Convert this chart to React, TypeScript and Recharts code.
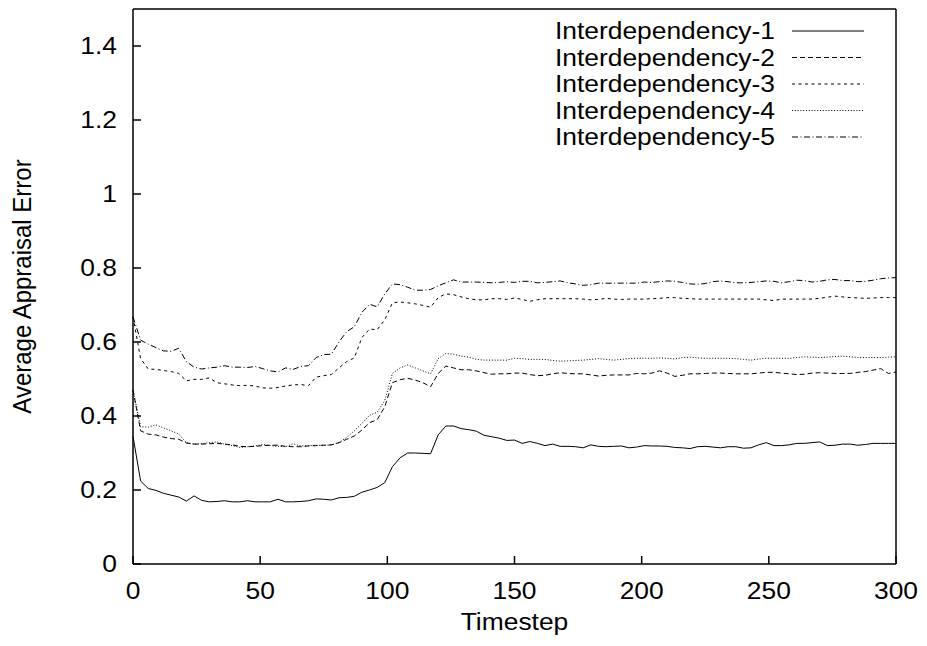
import { LineChart, Line, XAxis, YAxis, Legend } from "recharts"

const FONT = "'Liberation Sans', Arial, Helvetica, sans-serif"
const SX = 1.1 // the reference text is a bit wider than it is tall

const timesteps = [
  0, 3, 6, 9, 12, 15, 18, 21, 24, 27,
  30, 33, 36, 39, 42, 45, 48, 51, 54, 57,
  60, 63, 66, 69, 72, 75, 78, 81, 84, 87,
  90, 93, 96, 99, 102, 105, 108, 111, 114, 117,
  120, 123, 126, 129, 132, 135, 138, 141, 144, 147,
  150, 153, 156, 159, 162, 165, 168, 171, 174, 177,
  180, 183, 186, 189, 192, 195, 198, 201, 204, 207,
  210, 213, 216, 219, 222, 225, 228, 231, 234, 237,
  240, 243, 246, 249, 252, 255, 258, 261, 264, 267,
  270, 273, 276, 279, 282, 285, 288, 291, 294, 297,
  300,
]

const interdep1 = [
  0.345, 0.224, 0.204, 0.199, 0.191, 0.186, 0.181, 0.17, 0.184, 0.172,
  0.168, 0.169, 0.171, 0.168, 0.168, 0.171, 0.168, 0.168, 0.168, 0.175,
  0.168, 0.168, 0.169, 0.171, 0.176, 0.175, 0.173, 0.179, 0.18, 0.183,
  0.194, 0.2, 0.207, 0.22, 0.263, 0.287, 0.3, 0.3, 0.299, 0.298,
  0.349, 0.373, 0.373, 0.366, 0.363, 0.359, 0.348, 0.344, 0.34, 0.334,
  0.335, 0.326, 0.331, 0.326, 0.32, 0.324, 0.318, 0.318, 0.317, 0.314,
  0.322, 0.318, 0.317, 0.318, 0.319, 0.314, 0.316, 0.32, 0.319, 0.319,
  0.318, 0.315, 0.314, 0.312, 0.317, 0.318, 0.316, 0.314, 0.317, 0.317,
  0.313, 0.314, 0.322, 0.328, 0.32, 0.32, 0.322, 0.326, 0.326, 0.328,
  0.33, 0.32, 0.321, 0.324, 0.324, 0.321, 0.323, 0.326, 0.326, 0.326,
  0.326,
]

const interdep2 = [
  0.47, 0.36, 0.351, 0.349, 0.343, 0.339, 0.337, 0.327, 0.324, 0.324,
  0.325, 0.326, 0.324, 0.322, 0.318, 0.317, 0.318, 0.32, 0.321, 0.321,
  0.318, 0.317, 0.317, 0.319, 0.32, 0.321, 0.322, 0.328, 0.337, 0.346,
  0.362, 0.382, 0.39, 0.425, 0.49, 0.498, 0.502, 0.497, 0.49, 0.479,
  0.515, 0.535, 0.53, 0.525, 0.525, 0.522, 0.517, 0.513, 0.514, 0.514,
  0.516, 0.516, 0.512, 0.509, 0.51, 0.514, 0.517, 0.515, 0.514, 0.514,
  0.511, 0.508, 0.51, 0.511, 0.511, 0.511, 0.515, 0.514, 0.516, 0.522,
  0.516, 0.507, 0.51, 0.514, 0.514, 0.515, 0.516, 0.516, 0.515, 0.514,
  0.514, 0.514, 0.516, 0.518, 0.518, 0.516, 0.514, 0.512, 0.513, 0.516,
  0.517, 0.516, 0.515, 0.515, 0.515, 0.518, 0.52, 0.524, 0.528, 0.515,
  0.519,
]

const interdep3 = [
  0.668, 0.555, 0.527, 0.526, 0.523, 0.52, 0.515, 0.495, 0.499, 0.499,
  0.503, 0.49, 0.487, 0.484, 0.482, 0.483, 0.481, 0.476, 0.475, 0.477,
  0.481, 0.484, 0.485, 0.482, 0.505, 0.509, 0.512, 0.53, 0.547, 0.557,
  0.612, 0.635, 0.633, 0.66, 0.706, 0.708, 0.706, 0.703, 0.699, 0.694,
  0.72, 0.73, 0.728, 0.722, 0.717, 0.714, 0.714, 0.717, 0.717, 0.715,
  0.719, 0.715, 0.71, 0.714, 0.717, 0.717, 0.717, 0.717, 0.717, 0.716,
  0.714, 0.715, 0.718, 0.716, 0.715, 0.716, 0.716, 0.716, 0.717, 0.718,
  0.72, 0.72, 0.718, 0.717, 0.716, 0.716, 0.716, 0.716, 0.716, 0.716,
  0.716, 0.716, 0.716, 0.714, 0.712, 0.716, 0.716, 0.716, 0.716, 0.716,
  0.718, 0.721, 0.724, 0.722, 0.72, 0.719, 0.718, 0.719, 0.72, 0.72,
  0.72,
]

const interdep4 = [
  0.47, 0.371, 0.37, 0.376, 0.368, 0.36, 0.351, 0.328, 0.324, 0.325,
  0.328, 0.33, 0.324, 0.32, 0.315, 0.317, 0.319, 0.323, 0.32, 0.318,
  0.317, 0.325, 0.319, 0.32, 0.321, 0.321, 0.322, 0.328, 0.342, 0.36,
  0.38, 0.402, 0.41, 0.442, 0.515, 0.53, 0.538, 0.53, 0.522, 0.514,
  0.555, 0.569, 0.567, 0.562, 0.559, 0.553, 0.551, 0.551, 0.551, 0.551,
  0.556, 0.555, 0.553, 0.553, 0.553, 0.55, 0.548, 0.549, 0.55, 0.551,
  0.553, 0.555, 0.553, 0.551, 0.553, 0.555, 0.556, 0.556, 0.556, 0.557,
  0.556, 0.554, 0.558, 0.559, 0.557, 0.556, 0.556, 0.556, 0.556, 0.555,
  0.553, 0.551, 0.554, 0.556, 0.556, 0.556, 0.556, 0.558, 0.56, 0.559,
  0.558, 0.559, 0.561, 0.562, 0.56, 0.558, 0.558, 0.558, 0.558, 0.559,
  0.56,
]

const interdep5 = [
  0.668, 0.605, 0.594, 0.585, 0.576, 0.575, 0.583, 0.547, 0.532, 0.527,
  0.53, 0.532, 0.536, 0.532, 0.532, 0.531, 0.534, 0.528, 0.522, 0.519,
  0.53, 0.526, 0.534, 0.536, 0.558, 0.566, 0.567, 0.6, 0.628, 0.641,
  0.68, 0.702, 0.695, 0.73, 0.757, 0.755, 0.748, 0.74, 0.74, 0.742,
  0.752, 0.76, 0.768, 0.762, 0.762, 0.762, 0.761, 0.76, 0.761, 0.763,
  0.761, 0.764, 0.764, 0.76, 0.761, 0.763, 0.765, 0.76, 0.757, 0.753,
  0.755, 0.759, 0.759, 0.759, 0.759, 0.759, 0.759, 0.762, 0.761, 0.763,
  0.765, 0.764, 0.761, 0.757, 0.756, 0.758, 0.763, 0.765, 0.763, 0.76,
  0.76, 0.761, 0.763, 0.765, 0.764, 0.76, 0.763, 0.767, 0.766, 0.762,
  0.764, 0.768, 0.769, 0.766, 0.766, 0.763, 0.764, 0.767, 0.771, 0.773,
  0.774,
]

const xTicks = [0, 50, 100, 150, 200, 250, 300]
const yTicks = [0, 0.2, 0.4, 0.6, 0.8, 1, 1.2, 1.4]

const seriesNames = [
  "Interdependency-1",
  "Interdependency-2",
  "Interdependency-3",
  "Interdependency-4",
  "Interdependency-5",
]
const seriesKeys = ["s1", "s2", "s3", "s4", "s5"]
const dashes = ["", "5 3", "3 3.5", "1 1.8", "6 2.5 1 2.5"]

const data = timesteps.map((t, i) => ({
  t,
  s1: interdep1[i],
  s2: interdep2[i],
  s3: interdep3[i],
  s4: interdep4[i],
  s5: interdep5[i],
}))

function XTick({ x, y, payload }: any) {
  return (
    <g transform={`translate(${x},${y}) scale(${SX},1)`}>
      <text x={0} y={0} dy="0.72em" textAnchor="middle" fontSize={24} fontFamily={FONT} fill="#000">
        {payload.value}
      </text>
    </g>
  )
}

function YTick({ x, y, payload }: any) {
  return (
    <g transform={`translate(${x},${y}) scale(${SX},1)`}>
      <text x={0} y={0} dy="0.35em" textAnchor="end" fontSize={24} fontFamily={FONT} fill="#000">
        {payload.value}
      </text>
    </g>
  )
}

function XLabel(props: any) {
  const vb = props.viewBox
  return (
    <g transform={`translate(${vb.x + vb.width / 2},${630}) scale(${SX},1)`}>
      <text x={0} y={0} textAnchor="middle" fontSize={24} fontFamily={FONT} fill="#000">
        Timestep
      </text>
    </g>
  )
}

function YLabel(props: any) {
  const vb = props.viewBox
  return (
    <g transform={`translate(${22},${vb.y + vb.height / 2}) scale(${SX},1) rotate(-90)`}>
      <text x={0} y={0} dy="0.35em" textAnchor="middle" fontSize={24} fontFamily={FONT} fill="#000">
        Average Appraisal Error
      </text>
    </g>
  )
}

function LegendBox() {
  return (
    <svg width={340} height={135}>
      {seriesNames.map((name, i) => {
        const cy = 13 + i * 26.5
        return (
          <g key={name}>
            <g transform={`translate(235,${cy}) scale(${SX},1)`}>
              <text x={0} y={0} dy="0.35em" textAnchor="end" fontSize={24} fontFamily={FONT} fill="#000">
                {name}
              </text>
            </g>
            <line x1={252} x2={324} y1={cy} y2={cy} stroke="#000" strokeWidth={1} strokeDasharray={dashes[i]} />
          </g>
        )
      })}
    </svg>
  )
}

export default function App() {
  return (
    <div style={{ position: "absolute", left: 0, top: 0, width: 927, height: 646, background: "#fff" }}>
      <LineChart width={927} height={646} data={data} margin={{ top: 8, right: 30, bottom: 0, left: 0 }}>
        <XAxis
          xAxisId="bottom"
          dataKey="t"
          type="number"
          domain={[0, 300]}
          ticks={xTicks}
          height={82}
          stroke="#000"
          strokeWidth={1.5}
          tickSize={-8}
          tickMargin={26}
          tick={<XTick />}
          label={(p: any) => <XLabel {...p} />}
        />
        <XAxis
          xAxisId="top"
          orientation="top"
          dataKey="t"
          type="number"
          domain={[0, 300]}
          ticks={xTicks}
          height={1}
          stroke="#000"
          strokeWidth={1.5}
          tickSize={-8}
          tick={false}
          allowDataOverflow
        />
        <YAxis
          yAxisId="left"
          type="number"
          domain={[0, 1.5]}
          ticks={yTicks}
          width={133}
          stroke="#000"
          strokeWidth={1.5}
          tickSize={-8}
          tickMargin={24}
          tick={<YTick />}
          allowDataOverflow
          label={(p: any) => <YLabel {...p} />}
        />
        <YAxis
          yAxisId="right"
          orientation="right"
          type="number"
          domain={[0, 1.5]}
          ticks={yTicks}
          width={1}
          stroke="#000"
          strokeWidth={1.5}
          tickSize={-8}
          tick={false}
          allowDataOverflow
        />
        <Legend
          layout="vertical"
          align="center"
          verticalAlign="middle"
          wrapperStyle={{ left: 540, top: 18, width: 340, height: 135 }}
          content={() => <LegendBox />}
        />
        {seriesKeys.map((k, i) => (
          <Line
            key={k}
            xAxisId="bottom"
            yAxisId="left"
            type="linear"
            dataKey={k}
            name={seriesNames[i]}
            stroke="#000"
            strokeWidth={1}
            strokeDasharray={dashes[i] || undefined}
            dot={false}
            activeDot={false}
            isAnimationActive={false}
          />
        ))}
      </LineChart>
    </div>
  )
}
